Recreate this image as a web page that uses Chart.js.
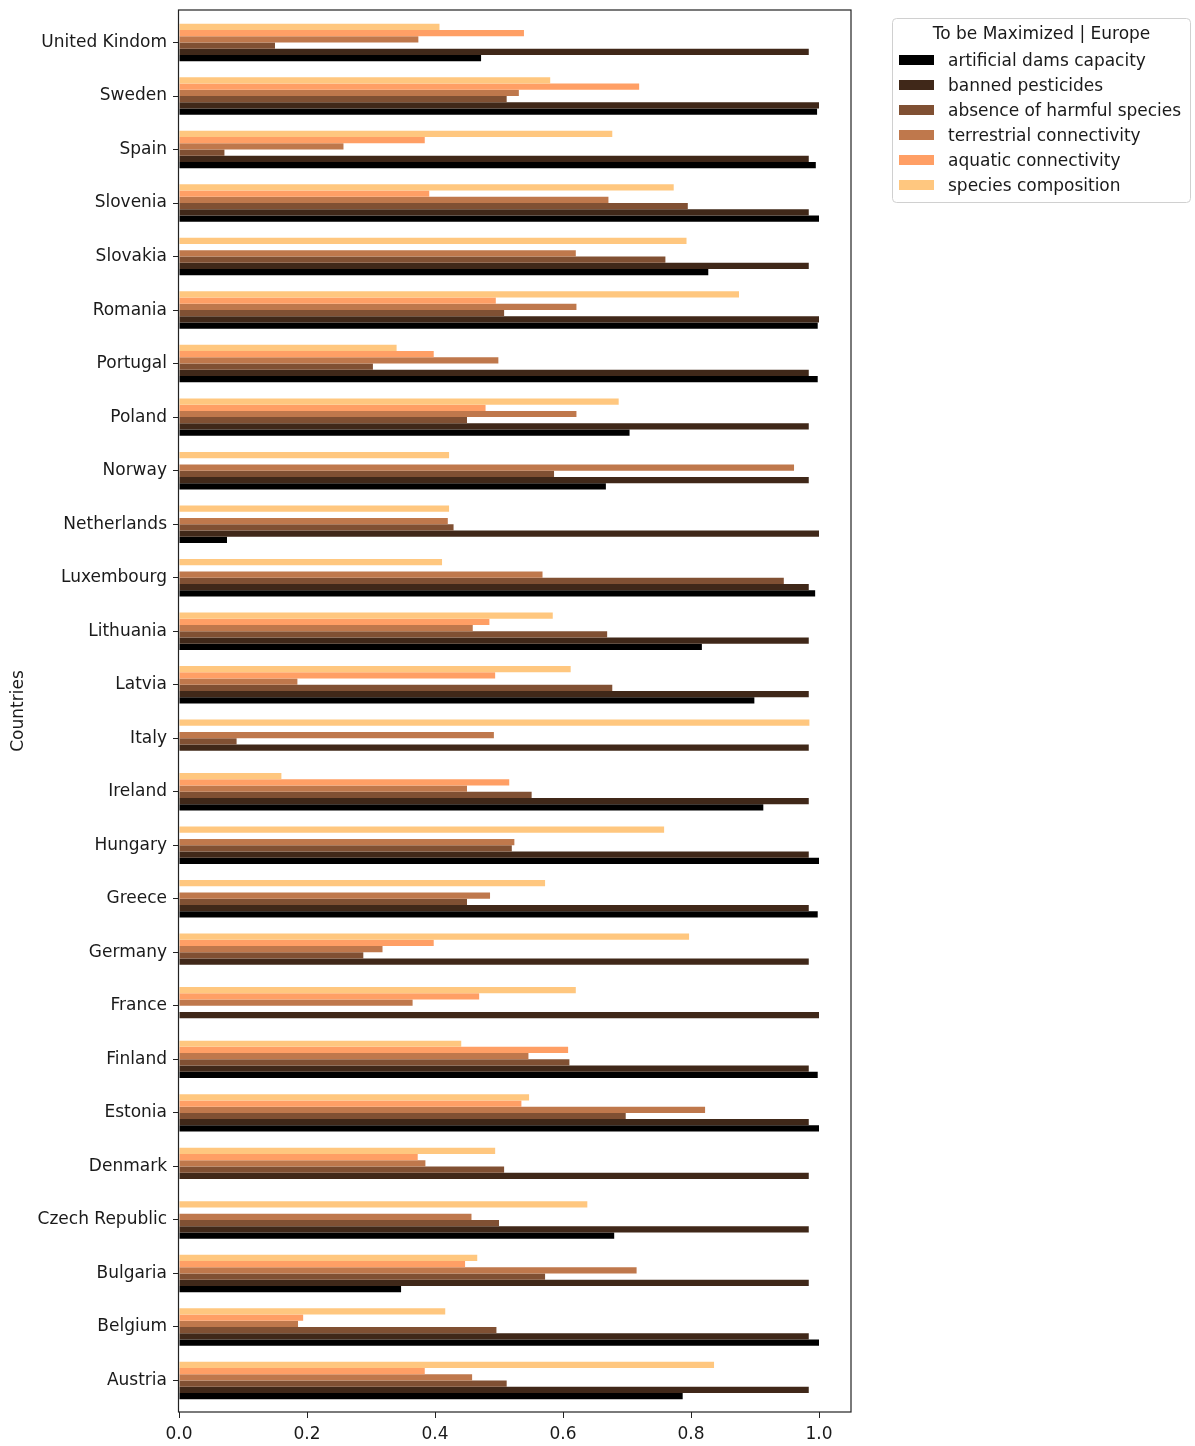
<!DOCTYPE html>
<html>
<head>
<meta charset="utf-8">
<title>To be Maximized | Europe</title>
<script src="https://cdn.jsdelivr.net/npm/chart.js@4/dist/chart.umd.min.js"></script>
<style>
  html, body { margin: 0; padding: 0; background: #fff; }
  canvas { display: block; }
</style>
</head>
<body>
<canvas id="chart" width="1195" height="1446"></canvas>
<script>
// countries, top to bottom as in the figure
const countries = ['United Kindom', 'Sweden', 'Spain', 'Slovenia', 'Slovakia', 'Romania', 'Portugal',
    'Poland', 'Norway', 'Netherlands', 'Luxembourg', 'Lithuania', 'Latvia', 'Italy', 'Ireland',
    'Hungary', 'Greece', 'Germany', 'France', 'Finland', 'Estonia', 'Denmark', 'Czech Republic',
    'Bulgaria', 'Belgium', 'Austria'];

const artificialDams = [0.472, 0.997, 0.995, 1.0, 0.827, 0.998, 0.998, 0.704, 0.667, 0.075, 0.994, 0.817, 0.899,
    0, 0.913, 1.0, 0.998, 0, 0, 0.998, 1.0, 0, 0.680, 0.347, 1.0, 0.787];
const bannedPesticides = [0.984, 1.0, 0.984, 0.984, 0.984, 1.0, 0.984, 0.984, 0.984, 1.0, 0.984, 0.984, 0.984,
    0.984, 0.984, 0.984, 0.984, 0.984, 1.0, 0.984, 0.984, 0.984, 0.984, 0.984, 0.984, 0.984];
const absenceHarmful = [0.150, 0.512, 0.071, 0.795, 0.760, 0.508, 0.303, 0.450, 0.586, 0.429, 0.945, 0.669, 0.677,
    0.090, 0.551, 0.520, 0.450, 0.288, 0, 0.610, 0.698, 0.508, 0.500, 0.572, 0.496, 0.512];
const terrestrial = [0.374, 0.531, 0.257, 0.671, 0.620, 0.621, 0.499, 0.621, 0.961, 0.420, 0.568, 0.459, 0.185,
    0.492, 0.450, 0.524, 0.486, 0.318, 0.365, 0.546, 0.822, 0.385, 0.457, 0.715, 0.186, 0.458];
const aquatic = [0.539, 0.719, 0.384, 0.391, 0, 0.495, 0.398, 0.479, 0, 0, 0, 0.485, 0.494,
    0, 0.516, 0, 0, 0.398, 0.469, 0.608, 0.535, 0.373, 0, 0.447, 0.194, 0.384];
const speciesComposition = [0.407, 0.580, 0.677, 0.773, 0.793, 0.875, 0.340, 0.687, 0.422, 0.422, 0.411, 0.584, 0.612,
    0.985, 0.160, 0.758, 0.572, 0.797, 0.620, 0.441, 0.547, 0.494, 0.638, 0.466, 0.416, 0.836];

const seriesNames = ['artificial dams capacity', 'banned pesticides', 'absence of harmful species',
    'terrestrial connectivity', 'aquatic connectivity', 'species composition'];
const seriesValues = [artificialDams, bannedPesticides, absenceHarmful, terrestrial, aquatic, speciesComposition];
// copper colormap, 6 steps
const seriesColors = ['#000000', '#402819', '#805033', '#bf784c', '#ff9f65', '#ffc77f'];

const xTicks = [0, 0.2, 0.4, 0.6, 0.8, 1.0];

const FONT = 'DejaVu Sans';
const TEXT = '#1a1a1a';

// countries sit on a numeric index axis (0 = top), black bar at the bottom of each group
const datasets = seriesNames.map((name, i) => ({
    label: name,
    data: seriesValues[i].map((v, k) => ({ x: v, y: k })),
    backgroundColor: seriesColors[i],
    borderWidth: 0,
    categoryPercentage: 0.7,
    barPercentage: 1.0
})).reverse();

// box around the plot, like matplotlib spines
const frame = {
    id: 'frame',
    afterDatasetsDraw(chart) {
        const { ctx, chartArea: a } = chart;
        ctx.save();
        ctx.strokeStyle = '#222';
        ctx.lineWidth = 1.2;
        ctx.strokeRect(a.left - 0.5, a.top, a.right - a.left + 0.5, a.bottom - a.top);
        ctx.restore();
    }
};

// legend box on the right
const legendBox = {
    id: 'legendBox',
    afterDraw(chart) {
        const ctx = chart.ctx;
        const x = 892.5, y = 18.5, w = 298, h = 184;
        ctx.save();
        ctx.beginPath();
        ctx.roundRect(x, y, w, h, 4);
        ctx.fillStyle = '#fff';
        ctx.fill();
        ctx.strokeStyle = '#d0d0d0';
        ctx.lineWidth = 1;
        ctx.stroke();

        ctx.font = '17px "' + FONT + '"';
        ctx.fillStyle = TEXT;
        ctx.textBaseline = 'middle';
        ctx.textAlign = 'center';
        ctx.fillText('To be Maximized | Europe', x + w / 2, 35);

        ctx.textAlign = 'left';
        seriesNames.forEach((name, i) => {
            const cy = 60 + i * 25;
            ctx.fillStyle = seriesColors[i];
            ctx.fillRect(899, cy - 5, 35, 10);
            ctx.fillStyle = TEXT;
            ctx.fillText(name, 948, cy + 1.5);
        });
        ctx.restore();
    }
};

new Chart(document.getElementById('chart'), {
    type: 'bar',
    data: { datasets: datasets },
    options: {
        indexAxis: 'y',
        responsive: false,
        animation: false,
        devicePixelRatio: 1,
        layout: { padding: { top: 10, right: 344, bottom: 0, left: 0 } },
        plugins: {
            legend: { display: false },
            tooltip: { enabled: false }
        },
        scales: {
            y: {
                type: 'linear',
                reverse: true,
                offset: false,
                min: -0.607,
                max: countries.length - 1 + 0.589,
                grid: { offset: false, drawOnChartArea: false, drawTicks: true, tickLength: 6, color: '#222' },
                border: { display: false },
                afterBuildTicks(s) { s.ticks = countries.map((c, k) => ({ value: k })); },
                ticks: {
                    font: { family: FONT, size: 17 }, color: TEXT, padding: 6, autoSkip: false,
                    callback: v => countries[v]
                },
                title: { display: true, text: 'Countries', font: { family: FONT, size: 17 }, color: TEXT, padding: { top: 8 } },
                afterFit(s) { s.width = 179; s.paddingTop = 0; s.paddingBottom = 0; }
            },
            x: {
                min: 0,
                max: 1.05,
                grid: { drawOnChartArea: false, drawTicks: true, tickLength: 6, color: '#222' },
                border: { display: false },
                afterBuildTicks(s) { s.ticks = xTicks.map(v => ({ value: v })); },
                ticks: {
                    font: { family: FONT, size: 17 }, color: TEXT, padding: 6,
                    callback: v => Number(v).toFixed(1)
                },
                afterFit(s) { s.height = 34; s.paddingLeft = 0; s.paddingRight = 0; }
            }
        }
    },
    plugins: [frame, legendBox]
});
</script>
</body>
</html>
